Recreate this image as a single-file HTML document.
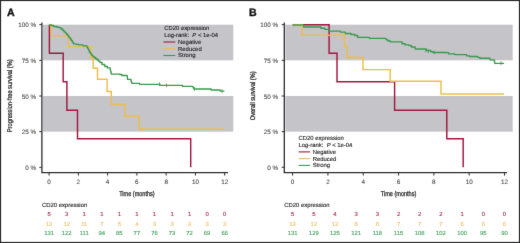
<!DOCTYPE html>
<html><head><meta charset="utf-8"><style>html,body{margin:0;padding:0;background:#fff;width:520px;height:243px;overflow:hidden}</style></head><body>
<svg width="520" height="243" viewBox="0 0 520 243" style="display:block;font-family:'Liberation Sans', sans-serif;text-rendering:geometricPrecision">
<defs><filter id="soft" filterUnits="userSpaceOnUse" x="0" y="0" width="520" height="243" color-interpolation-filters="sRGB"><feConvolveMatrix order="3" kernelMatrix="0 1 0 1 10 1 0 1 0" divisor="14" edgeMode="duplicate"/></filter></defs>
<g filter="url(#soft)">
<rect x="0" y="0" width="520" height="243" fill="#fff"/>
<rect x="43" y="24.7" width="190.3" height="35.65" fill="#c5c4c9"/>
<rect x="43" y="96" width="190.3" height="35.65" fill="#c5c4c9"/>
<path d="M41.9,22.4 V172.6 H228" fill="none" stroke="#2e2e2e" stroke-width="1.3"/>
<path d="M39.3,24.7 H41.9" stroke="#2e2e2e" stroke-width="1"/>
<text x="36" y="27.2" font-size="6.3" fill="#4a4a4a" stroke="#4a4a4a" stroke-width="0.1" text-anchor="end">100 %</text>
<path d="M39.3,60.35 H41.9" stroke="#2e2e2e" stroke-width="1"/>
<text x="36" y="62.85" font-size="6.3" fill="#4a4a4a" stroke="#4a4a4a" stroke-width="0.1" text-anchor="end">75 %</text>
<path d="M39.3,96 H41.9" stroke="#2e2e2e" stroke-width="1"/>
<text x="36" y="98.5" font-size="6.3" fill="#4a4a4a" stroke="#4a4a4a" stroke-width="0.1" text-anchor="end">50 %</text>
<path d="M39.3,131.65 H41.9" stroke="#2e2e2e" stroke-width="1"/>
<text x="36" y="134.15" font-size="6.3" fill="#4a4a4a" stroke="#4a4a4a" stroke-width="0.1" text-anchor="end">25 %</text>
<path d="M39.3,167.3 H41.9" stroke="#2e2e2e" stroke-width="1"/>
<text x="36" y="169.8" font-size="6.3" fill="#4a4a4a" stroke="#4a4a4a" stroke-width="0.1" text-anchor="end">0 %</text>
<path d="M49.1,172.6 V175.6" stroke="#2e2e2e" stroke-width="1"/>
<text x="49.1" y="184.4" font-size="6.3" fill="#4a4a4a" stroke="#4a4a4a" stroke-width="0.1" text-anchor="middle">0</text>
<path d="M78.36,172.6 V175.6" stroke="#2e2e2e" stroke-width="1"/>
<text x="78.36" y="184.4" font-size="6.3" fill="#4a4a4a" stroke="#4a4a4a" stroke-width="0.1" text-anchor="middle">2</text>
<path d="M107.62,172.6 V175.6" stroke="#2e2e2e" stroke-width="1"/>
<text x="107.62" y="184.4" font-size="6.3" fill="#4a4a4a" stroke="#4a4a4a" stroke-width="0.1" text-anchor="middle">4</text>
<path d="M136.88,172.6 V175.6" stroke="#2e2e2e" stroke-width="1"/>
<text x="136.88" y="184.4" font-size="6.3" fill="#4a4a4a" stroke="#4a4a4a" stroke-width="0.1" text-anchor="middle">6</text>
<path d="M166.14,172.6 V175.6" stroke="#2e2e2e" stroke-width="1"/>
<text x="166.14" y="184.4" font-size="6.3" fill="#4a4a4a" stroke="#4a4a4a" stroke-width="0.1" text-anchor="middle">8</text>
<path d="M195.4,172.6 V175.6" stroke="#2e2e2e" stroke-width="1"/>
<text x="195.4" y="184.4" font-size="6.3" fill="#4a4a4a" stroke="#4a4a4a" stroke-width="0.1" text-anchor="middle">10</text>
<path d="M224.66,172.6 V175.6" stroke="#2e2e2e" stroke-width="1"/>
<text x="224.66" y="184.4" font-size="6.3" fill="#4a4a4a" stroke="#4a4a4a" stroke-width="0.1" text-anchor="middle">12</text>
<text transform="translate(136.88,195.8) scale(0.79,1)" font-size="7" fill="#2a2a2a" stroke="#2a2a2a" stroke-width="0.28" text-anchor="middle">Time (months)</text>
<text transform="translate(12.4,95.8) rotate(-90) scale(0.818,1)" font-size="6.9" fill="#2a2a2a" stroke="#2a2a2a" stroke-width="0.28" text-anchor="middle">Progression-free survival (%)</text>
<text x="6.9" y="15.9" font-size="10.6" font-weight="bold" fill="#111" stroke="#111" stroke-width="0.35">A</text>
<rect x="285.4" y="24.7" width="227.3" height="35.65" fill="#c5c4c9"/>
<rect x="285.4" y="96" width="227.3" height="35.65" fill="#c5c4c9"/>
<path d="M284.3,22.4 V172.6 H507" fill="none" stroke="#2e2e2e" stroke-width="1.3"/>
<path d="M281.7,24.7 H284.3" stroke="#2e2e2e" stroke-width="1"/>
<text x="278" y="27.2" font-size="6.3" fill="#4a4a4a" stroke="#4a4a4a" stroke-width="0.1" text-anchor="end">100 %</text>
<path d="M281.7,60.35 H284.3" stroke="#2e2e2e" stroke-width="1"/>
<text x="278" y="62.85" font-size="6.3" fill="#4a4a4a" stroke="#4a4a4a" stroke-width="0.1" text-anchor="end">75 %</text>
<path d="M281.7,96 H284.3" stroke="#2e2e2e" stroke-width="1"/>
<text x="278" y="98.5" font-size="6.3" fill="#4a4a4a" stroke="#4a4a4a" stroke-width="0.1" text-anchor="end">50 %</text>
<path d="M281.7,131.65 H284.3" stroke="#2e2e2e" stroke-width="1"/>
<text x="278" y="134.15" font-size="6.3" fill="#4a4a4a" stroke="#4a4a4a" stroke-width="0.1" text-anchor="end">25 %</text>
<path d="M281.7,167.3 H284.3" stroke="#2e2e2e" stroke-width="1"/>
<text x="278" y="169.8" font-size="6.3" fill="#4a4a4a" stroke="#4a4a4a" stroke-width="0.1" text-anchor="end">0 %</text>
<path d="M292.6,172.6 V175.6" stroke="#2e2e2e" stroke-width="1"/>
<text x="292.6" y="184.4" font-size="6.3" fill="#4a4a4a" stroke="#4a4a4a" stroke-width="0.1" text-anchor="middle">0</text>
<path d="M327.92,172.6 V175.6" stroke="#2e2e2e" stroke-width="1"/>
<text x="327.92" y="184.4" font-size="6.3" fill="#4a4a4a" stroke="#4a4a4a" stroke-width="0.1" text-anchor="middle">2</text>
<path d="M363.24,172.6 V175.6" stroke="#2e2e2e" stroke-width="1"/>
<text x="363.24" y="184.4" font-size="6.3" fill="#4a4a4a" stroke="#4a4a4a" stroke-width="0.1" text-anchor="middle">4</text>
<path d="M398.56,172.6 V175.6" stroke="#2e2e2e" stroke-width="1"/>
<text x="398.56" y="184.4" font-size="6.3" fill="#4a4a4a" stroke="#4a4a4a" stroke-width="0.1" text-anchor="middle">6</text>
<path d="M433.88,172.6 V175.6" stroke="#2e2e2e" stroke-width="1"/>
<text x="433.88" y="184.4" font-size="6.3" fill="#4a4a4a" stroke="#4a4a4a" stroke-width="0.1" text-anchor="middle">8</text>
<path d="M469.2,172.6 V175.6" stroke="#2e2e2e" stroke-width="1"/>
<text x="469.2" y="184.4" font-size="6.3" fill="#4a4a4a" stroke="#4a4a4a" stroke-width="0.1" text-anchor="middle">10</text>
<path d="M504.52,172.6 V175.6" stroke="#2e2e2e" stroke-width="1"/>
<text x="504.52" y="184.4" font-size="6.3" fill="#4a4a4a" stroke="#4a4a4a" stroke-width="0.1" text-anchor="middle">12</text>
<text transform="translate(398.56,195.8) scale(0.79,1)" font-size="7" fill="#2a2a2a" stroke="#2a2a2a" stroke-width="0.28" text-anchor="middle">Time (months)</text>
<text transform="translate(255,95.8) rotate(-90) scale(0.818,1)" font-size="6.9" fill="#2a2a2a" stroke="#2a2a2a" stroke-width="0.28" text-anchor="middle">Overall survival (%)</text>
<text x="249" y="15.9" font-size="10.6" font-weight="bold" fill="#111" stroke="#111" stroke-width="0.35">B</text>
<path d="M49.1,24.8 H49.4 V53.3 H63.2 V81.8 H66.9 V110.3 H77.5 V138.8 H190.7 V167.3" fill="none" stroke="#a3183f" stroke-width="1.45"/>
<path d="M49.1,24.8 H51.4 V35.8 H68.5 V46.6 H90.8 V57.7 H93.2 V68.3 H97.5 V79.2 H107.1 V91.5 H111.3 V104.4 H124.9 V116.2 H139.2 V129.3 H223.7" fill="none" stroke="#efbd48" stroke-width="1.45"/>
<path d="M292.6,24.8 H329.1 V53.3 H337 V81.8 H394.6 V110.3 H446.8 V138.8 H463.2 V167.3" fill="none" stroke="#a3183f" stroke-width="1.45"/>
<path d="M292.6,24.8 H302 V35.3 H344.5 V46.7 H347 V57.5 H363 V69.6 H390.2 V81.2 H441 V93.9 H504" fill="none" stroke="#efbd48" stroke-width="1.45"/>
<path d="M49.1,24.8 H51 V25.5 H53.6 V26.5 H57 V27.2 H59 V27.6 H60.85 V29 H62.7 V30.4 H63.97 V31.67 H65.23 V32.93 H66.5 V34.2 H67.73 V35.8 H68.97 V37.4 H70.2 V39 H71.27 V40.6 H72.33 V42.2 H73.4 V43.8 H76 V44.3 H78.7 V44.8 H83 V45.8 H87 V46.8 H87.5 V47.9 H88 V49 H88.75 V50.6 H89.5 V52.2 H90.5 V53.6 H91.5 V55 H92.55 V56.1 H93.6 V57.2 H95.25 V58.45 H96.9 V59.7 H98.45 V61.1 H100 V62.5 H102 V64.5 H104.8 V66.5 H107.4 V67.9 H110.2 V69.8 H110.57 V71.23 H110.93 V72.67 H111.3 V74.1 H119.9 V74.5 H121.9 V75.5 H127.1 V75.7 H127.23 V76.93 H127.37 V78.17 H127.5 V79.4 H131 V81 H131.4 V82.15 H131.8 V83.3 H138 V83.3 H139.6 V84.3 H158.4 V84.3 H160 V85.4 H181 V85.4 H182.6 V86.4 H192.3 V86.6 H193.1 V87.8 H193.9 V89 H209.5 V89 H211.1 V90 H218.9 V90 H220.1 V91.1 H224.4 V91.1" fill="none" stroke="#3a9a4e" stroke-width="1.35" stroke-linejoin="round"/>
<path d="M159.5,82.3 V86.1" stroke="#3a9a4e" stroke-width="0.75"/>
<path d="M166.5,83.4 V87.2" stroke="#3a9a4e" stroke-width="0.75"/>
<path d="M194.5,87 V90.8" stroke="#3a9a4e" stroke-width="0.75"/>
<path d="M222,89.1 V92.9" stroke="#3a9a4e" stroke-width="0.75"/>
<path d="M292.6,24.8 H303.6 V24.8 H303.6 V25.9 H303.6 V27 H316.9 V27 H320.8 V28.2 H324.7 V29.4 H328.9 V31.1 H337.5 V31.1 H340.4 V32.1 H345.2 V33.5 H351 V34.5 H354.8 V35.5 H357.7 V37.4 H367.3 V37.4 H369.3 V38.3 H384.8 V38.6 H386.4 V39.8 H388 V41 H390.3 V41.8 H399.7 V41.8 H402 V43.7 H405.2 V44.9 H408.9 V45.5 H411.3 V47 H415.2 V49 H423.8 V49 H426.1 V50.5 H430.8 V51.7 H433.1 V52.5 H447 V52.6 H448.6 V53.8 H454.8 V54.6 H464.2 V54.6 H466.6 V55.8 H469.7 V56.5 H477.5 V57.3 H479.8 V58.2 H487.6 V58.2 H490 V59.8 H493.9 V59.8 H494.3 V61.55 H494.7 V63.3 H504 V63.3" fill="none" stroke="#3a9a4e" stroke-width="1.35" stroke-linejoin="round"/>
<path d="M426,48.5 V52.3" stroke="#3a9a4e" stroke-width="0.75"/>
<path d="M428.4,49.2 V53" stroke="#3a9a4e" stroke-width="0.75"/>
<path d="M434.3,50.5 V54.3" stroke="#3a9a4e" stroke-width="0.75"/>
<path d="M501,61.3 V65.1" stroke="#3a9a4e" stroke-width="0.75"/>
<text x="164.2" y="30.4" font-size="5.9" fill="#222" stroke="#222" stroke-width="0.12">CD20 expression</text>
<text x="164.2" y="37.15" font-size="5.9" fill="#222" xml:space="preserve" stroke="#222" stroke-width="0.12">Log-rank:  <tspan font-style="italic">P</tspan> &lt; 1e-04</text>
<path d="M163.4,42 H175.3" stroke="#a3183f" stroke-width="1.1"/>
<text x="178.1" y="43.9" font-size="5.9" fill="#222" stroke="#222" stroke-width="0.12">Negative</text>
<path d="M163.4,48.75 H175.3" stroke="#efbd48" stroke-width="1.1"/>
<text x="178.1" y="50.65" font-size="5.9" fill="#222" stroke="#222" stroke-width="0.12">Reduced</text>
<path d="M163.4,55.5 H175.3" stroke="#3a9a4e" stroke-width="1.1"/>
<text x="178.1" y="57.4" font-size="5.9" fill="#222" stroke="#222" stroke-width="0.12">Strong</text>
<text x="298.5" y="140.3" font-size="5.9" fill="#222" stroke="#222" stroke-width="0.12">CD20 expression</text>
<text x="298.5" y="147.05" font-size="5.9" fill="#222" xml:space="preserve" stroke="#222" stroke-width="0.12">Log-rank:  <tspan font-style="italic">P</tspan> &lt; 1e-04</text>
<path d="M298.6,151.9 H310" stroke="#a3183f" stroke-width="1.1"/>
<text x="312.7" y="153.8" font-size="5.9" fill="#222" stroke="#222" stroke-width="0.12">Negative</text>
<path d="M298.6,158.65 H310" stroke="#efbd48" stroke-width="1.1"/>
<text x="312.7" y="160.55" font-size="5.9" fill="#222" stroke="#222" stroke-width="0.12">Reduced</text>
<path d="M298.6,165.4 H310" stroke="#3a9a4e" stroke-width="1.1"/>
<text x="312.7" y="167.3" font-size="5.9" fill="#222" stroke="#222" stroke-width="0.12">Strong</text>
<text x="42" y="206.7" font-size="5.9" fill="#222" stroke="#222" stroke-width="0.12">CD20 expression</text>
<text x="49.1" y="216" font-size="5.9" fill="#a82a4c" text-anchor="middle" stroke="#a82a4c" stroke-width="0.12">5</text>
<text x="66.66" y="216" font-size="5.9" fill="#a82a4c" text-anchor="middle" stroke="#a82a4c" stroke-width="0.12">3</text>
<text x="84.22" y="216" font-size="5.9" fill="#a82a4c" text-anchor="middle" stroke="#a82a4c" stroke-width="0.12">1</text>
<text x="101.78" y="216" font-size="5.9" fill="#a82a4c" text-anchor="middle" stroke="#a82a4c" stroke-width="0.12">1</text>
<text x="119.34" y="216" font-size="5.9" fill="#a82a4c" text-anchor="middle" stroke="#a82a4c" stroke-width="0.12">1</text>
<text x="136.9" y="216" font-size="5.9" fill="#a82a4c" text-anchor="middle" stroke="#a82a4c" stroke-width="0.12">1</text>
<text x="154.46" y="216" font-size="5.9" fill="#a82a4c" text-anchor="middle" stroke="#a82a4c" stroke-width="0.12">1</text>
<text x="172.02" y="216" font-size="5.9" fill="#a82a4c" text-anchor="middle" stroke="#a82a4c" stroke-width="0.12">1</text>
<text x="189.58" y="216" font-size="5.9" fill="#a82a4c" text-anchor="middle" stroke="#a82a4c" stroke-width="0.12">1</text>
<text x="207.14" y="216" font-size="5.9" fill="#a82a4c" text-anchor="middle" stroke="#a82a4c" stroke-width="0.12">0</text>
<text x="224.7" y="216" font-size="5.9" fill="#a82a4c" text-anchor="middle" stroke="#a82a4c" stroke-width="0.12">0</text>
<text x="49.1" y="225.6" font-size="5.9" fill="#f2c068" text-anchor="middle" stroke="#f2c068" stroke-width="0.12">13</text>
<text x="66.66" y="225.6" font-size="5.9" fill="#f2c068" text-anchor="middle" stroke="#f2c068" stroke-width="0.12">12</text>
<text x="84.22" y="225.6" font-size="5.9" fill="#f2c068" text-anchor="middle" stroke="#f2c068" stroke-width="0.12">11</text>
<text x="101.78" y="225.6" font-size="5.9" fill="#f2c068" text-anchor="middle" stroke="#f2c068" stroke-width="0.12">7</text>
<text x="119.34" y="225.6" font-size="5.9" fill="#f2c068" text-anchor="middle" stroke="#f2c068" stroke-width="0.12">5</text>
<text x="136.9" y="225.6" font-size="5.9" fill="#f2c068" text-anchor="middle" stroke="#f2c068" stroke-width="0.12">4</text>
<text x="154.46" y="225.6" font-size="5.9" fill="#f2c068" text-anchor="middle" stroke="#f2c068" stroke-width="0.12">3</text>
<text x="172.02" y="225.6" font-size="5.9" fill="#f2c068" text-anchor="middle" stroke="#f2c068" stroke-width="0.12">3</text>
<text x="189.58" y="225.6" font-size="5.9" fill="#f2c068" text-anchor="middle" stroke="#f2c068" stroke-width="0.12">3</text>
<text x="207.14" y="225.6" font-size="5.9" fill="#f2c068" text-anchor="middle" stroke="#f2c068" stroke-width="0.12">3</text>
<text x="224.7" y="225.6" font-size="5.9" fill="#f2c068" text-anchor="middle" stroke="#f2c068" stroke-width="0.12">3</text>
<text x="49.1" y="235.2" font-size="5.9" fill="#45a05c" text-anchor="middle" stroke="#45a05c" stroke-width="0.12">131</text>
<text x="66.66" y="235.2" font-size="5.9" fill="#45a05c" text-anchor="middle" stroke="#45a05c" stroke-width="0.12">122</text>
<text x="84.22" y="235.2" font-size="5.9" fill="#45a05c" text-anchor="middle" stroke="#45a05c" stroke-width="0.12">111</text>
<text x="101.78" y="235.2" font-size="5.9" fill="#45a05c" text-anchor="middle" stroke="#45a05c" stroke-width="0.12">94</text>
<text x="119.34" y="235.2" font-size="5.9" fill="#45a05c" text-anchor="middle" stroke="#45a05c" stroke-width="0.12">85</text>
<text x="136.9" y="235.2" font-size="5.9" fill="#45a05c" text-anchor="middle" stroke="#45a05c" stroke-width="0.12">77</text>
<text x="154.46" y="235.2" font-size="5.9" fill="#45a05c" text-anchor="middle" stroke="#45a05c" stroke-width="0.12">76</text>
<text x="172.02" y="235.2" font-size="5.9" fill="#45a05c" text-anchor="middle" stroke="#45a05c" stroke-width="0.12">73</text>
<text x="189.58" y="235.2" font-size="5.9" fill="#45a05c" text-anchor="middle" stroke="#45a05c" stroke-width="0.12">72</text>
<text x="207.14" y="235.2" font-size="5.9" fill="#45a05c" text-anchor="middle" stroke="#45a05c" stroke-width="0.12">69</text>
<text x="224.7" y="235.2" font-size="5.9" fill="#45a05c" text-anchor="middle" stroke="#45a05c" stroke-width="0.12">66</text>
<text x="284.3" y="206.7" font-size="5.9" fill="#222" stroke="#222" stroke-width="0.12">CD20 expression</text>
<text x="292.6" y="216" font-size="5.9" fill="#a82a4c" text-anchor="middle" stroke="#a82a4c" stroke-width="0.12">5</text>
<text x="313.79" y="216" font-size="5.9" fill="#a82a4c" text-anchor="middle" stroke="#a82a4c" stroke-width="0.12">5</text>
<text x="334.98" y="216" font-size="5.9" fill="#a82a4c" text-anchor="middle" stroke="#a82a4c" stroke-width="0.12">4</text>
<text x="356.17" y="216" font-size="5.9" fill="#a82a4c" text-anchor="middle" stroke="#a82a4c" stroke-width="0.12">3</text>
<text x="377.36" y="216" font-size="5.9" fill="#a82a4c" text-anchor="middle" stroke="#a82a4c" stroke-width="0.12">3</text>
<text x="398.55" y="216" font-size="5.9" fill="#a82a4c" text-anchor="middle" stroke="#a82a4c" stroke-width="0.12">2</text>
<text x="419.74" y="216" font-size="5.9" fill="#a82a4c" text-anchor="middle" stroke="#a82a4c" stroke-width="0.12">2</text>
<text x="440.93" y="216" font-size="5.9" fill="#a82a4c" text-anchor="middle" stroke="#a82a4c" stroke-width="0.12">2</text>
<text x="462.12" y="216" font-size="5.9" fill="#a82a4c" text-anchor="middle" stroke="#a82a4c" stroke-width="0.12">1</text>
<text x="483.31" y="216" font-size="5.9" fill="#a82a4c" text-anchor="middle" stroke="#a82a4c" stroke-width="0.12">0</text>
<text x="504.5" y="216" font-size="5.9" fill="#a82a4c" text-anchor="middle" stroke="#a82a4c" stroke-width="0.12">0</text>
<text x="292.6" y="225.6" font-size="5.9" fill="#f2c068" text-anchor="middle" stroke="#f2c068" stroke-width="0.12">13</text>
<text x="313.79" y="225.6" font-size="5.9" fill="#f2c068" text-anchor="middle" stroke="#f2c068" stroke-width="0.12">12</text>
<text x="334.98" y="225.6" font-size="5.9" fill="#f2c068" text-anchor="middle" stroke="#f2c068" stroke-width="0.12">12</text>
<text x="356.17" y="225.6" font-size="5.9" fill="#f2c068" text-anchor="middle" stroke="#f2c068" stroke-width="0.12">8</text>
<text x="377.36" y="225.6" font-size="5.9" fill="#f2c068" text-anchor="middle" stroke="#f2c068" stroke-width="0.12">8</text>
<text x="398.55" y="225.6" font-size="5.9" fill="#f2c068" text-anchor="middle" stroke="#f2c068" stroke-width="0.12">7</text>
<text x="419.74" y="225.6" font-size="5.9" fill="#f2c068" text-anchor="middle" stroke="#f2c068" stroke-width="0.12">7</text>
<text x="440.93" y="225.6" font-size="5.9" fill="#f2c068" text-anchor="middle" stroke="#f2c068" stroke-width="0.12">7</text>
<text x="462.12" y="225.6" font-size="5.9" fill="#f2c068" text-anchor="middle" stroke="#f2c068" stroke-width="0.12">6</text>
<text x="483.31" y="225.6" font-size="5.9" fill="#f2c068" text-anchor="middle" stroke="#f2c068" stroke-width="0.12">6</text>
<text x="504.5" y="225.6" font-size="5.9" fill="#f2c068" text-anchor="middle" stroke="#f2c068" stroke-width="0.12">6</text>
<text x="292.6" y="235.2" font-size="5.9" fill="#45a05c" text-anchor="middle" stroke="#45a05c" stroke-width="0.12">131</text>
<text x="313.79" y="235.2" font-size="5.9" fill="#45a05c" text-anchor="middle" stroke="#45a05c" stroke-width="0.12">129</text>
<text x="334.98" y="235.2" font-size="5.9" fill="#45a05c" text-anchor="middle" stroke="#45a05c" stroke-width="0.12">125</text>
<text x="356.17" y="235.2" font-size="5.9" fill="#45a05c" text-anchor="middle" stroke="#45a05c" stroke-width="0.12">121</text>
<text x="377.36" y="235.2" font-size="5.9" fill="#45a05c" text-anchor="middle" stroke="#45a05c" stroke-width="0.12">118</text>
<text x="398.55" y="235.2" font-size="5.9" fill="#45a05c" text-anchor="middle" stroke="#45a05c" stroke-width="0.12">115</text>
<text x="419.74" y="235.2" font-size="5.9" fill="#45a05c" text-anchor="middle" stroke="#45a05c" stroke-width="0.12">108</text>
<text x="440.93" y="235.2" font-size="5.9" fill="#45a05c" text-anchor="middle" stroke="#45a05c" stroke-width="0.12">102</text>
<text x="462.12" y="235.2" font-size="5.9" fill="#45a05c" text-anchor="middle" stroke="#45a05c" stroke-width="0.12">100</text>
<text x="483.31" y="235.2" font-size="5.9" fill="#45a05c" text-anchor="middle" stroke="#45a05c" stroke-width="0.12">95</text>
<text x="504.5" y="235.2" font-size="5.9" fill="#45a05c" text-anchor="middle" stroke="#45a05c" stroke-width="0.12">90</text>
<rect x="0.5" y="0.5" width="519" height="242" fill="none" stroke="#2a2a2a" stroke-width="1.2"/>
</g></svg>
</body></html>
